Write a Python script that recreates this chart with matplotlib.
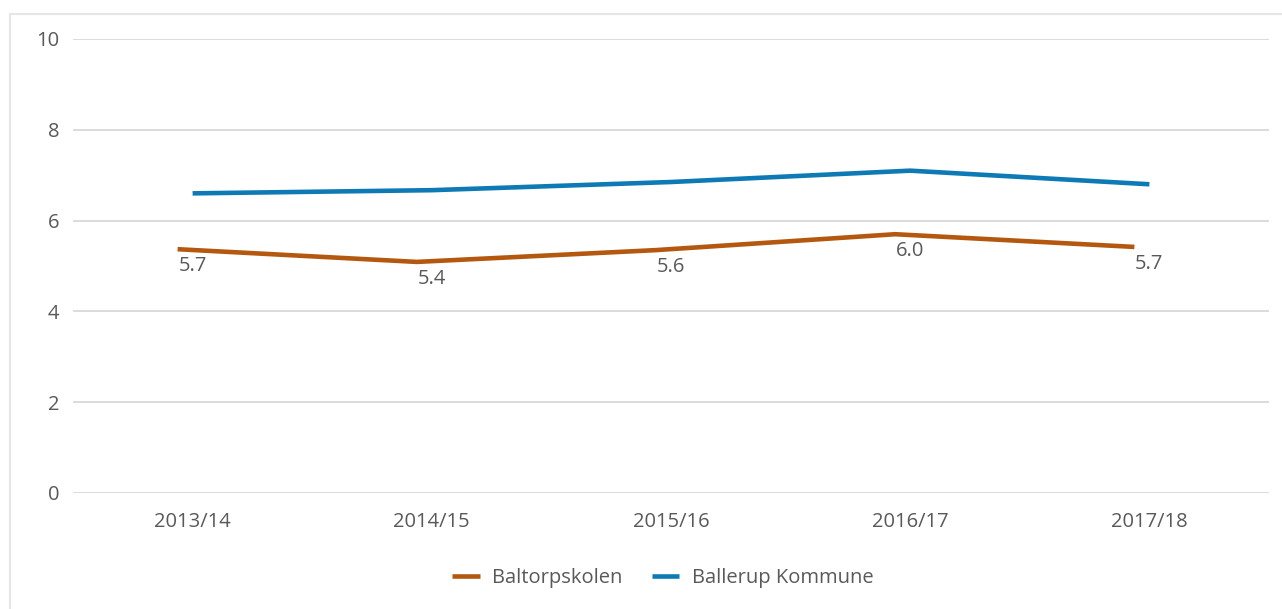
import numpy as np
import matplotlib.pyplot as plt
import matplotlib.transforms as mtransforms
from matplotlib.patches import Rectangle

seasons = ["2013/14", "2014/15", "2015/16", "2016/17", "2017/18"]
baltorp = [5.37, 5.09, 5.35, 5.70, 5.42]
baltorp_labels = ["5.7", "5.4", "5.6", "6.0", "5.7"]
ballerup = [6.60, 6.67, 6.85, 7.10, 6.80]

orange = "#B4580F"
blue = "#0E7AB5"
text_col = "#595959"
grid_col = "#D9D9D9"
fs = 14.5

plt.rcParams['font.family'] = ['Open Sans', 'DejaVu Sans']

fig = plt.figure(figsize=(12.82, 6.09), dpi=100)
fig.patch.set_facecolor("white")
# light outer frame of the chart area
fig.patches.append(Rectangle((10 / 1282, -0.05), 1.1, 1 - 14 / 609 + 0.05,
                             transform=fig.transFigure, fill=False,
                             edgecolor="#E6E6E6", linewidth=1.5))

ax = fig.add_axes([73 / 1282, 1 - 493 / 609, (1269 - 73) / 1282, (493 - 39) / 609])
x = np.arange(len(seasons))

# the orange series sits a little left of the category centres in the source
shift = mtransforms.ScaledTranslation(-15 / 100, 0, fig.dpi_scale_trans)
ax.plot(x, baltorp, color=orange, linewidth=3.3, solid_capstyle="butt",
        label="Baltorpskolen", transform=ax.transData + shift, zorder=3)
ax.plot(x, ballerup, color=blue, linewidth=3.3, solid_capstyle="butt",
        label="Ballerup Kommune", zorder=3)

for xi, yi, lab in zip(x, baltorp, baltorp_labels):
    ax.annotate(lab, (xi, yi), textcoords="offset points", xytext=(0, -5),
                ha="center", va="top", fontsize=fs, color=text_col)

ax.set_xlim(-0.5, len(seasons) - 0.5)
ax.set_ylim(0, 10)
ax.set_yticks(np.arange(0, 11, 2))
ax.set_xticks(x)
ax.set_xticklabels(seasons)
ax.yaxis.grid(True, color=grid_col, linewidth=1.3)
ax.set_axisbelow(True)
for s in ax.spines.values():
    s.set_visible(False)
ax.tick_params(axis="both", length=0, labelsize=fs, labelcolor=text_col)
ax.tick_params(axis="x", pad=14)
ax.tick_params(axis="y", pad=10)

leg = fig.legend(loc="center", bbox_to_anchor=(0.517, 1 - 578 / 609), ncol=2,
                 frameon=False, fontsize=fs, handlelength=1.35, handletextpad=0.6,
                 columnspacing=1.5)
for t in leg.get_texts():
    t.set_color(text_col)
for h in leg.get_lines():
    h.set_linewidth(3.3)

fig.savefig("out.png", dpi=100)
